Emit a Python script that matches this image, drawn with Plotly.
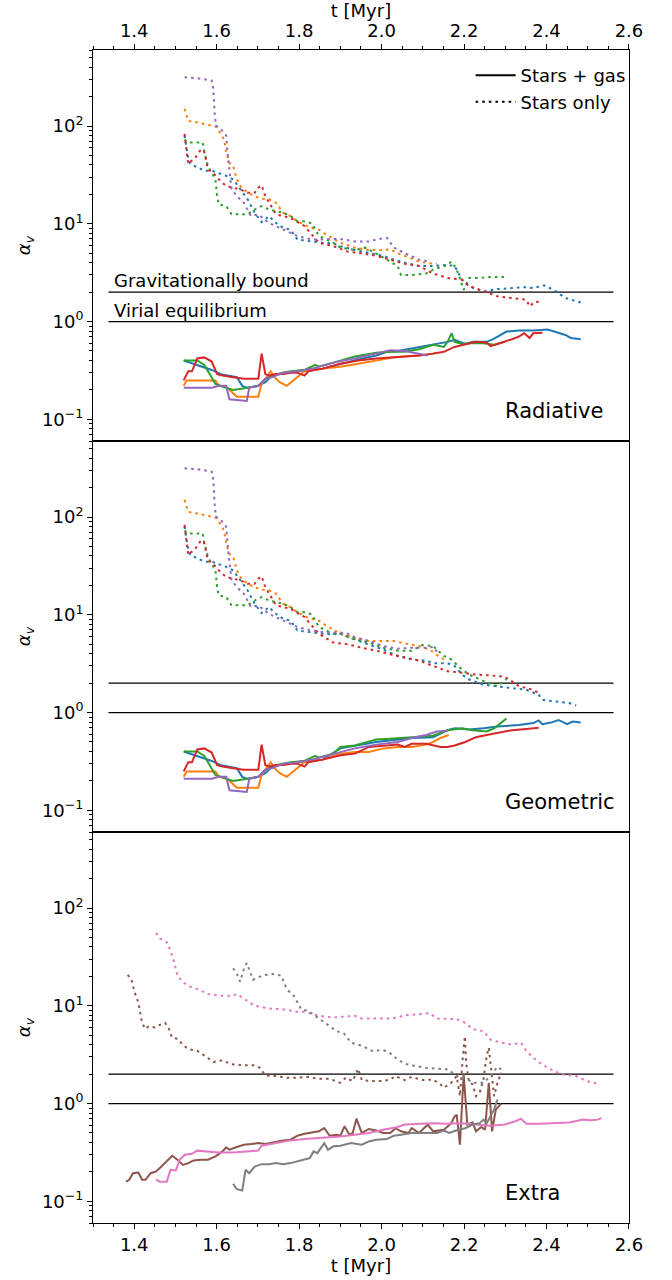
import math
import plotly.graph_objects as go

# ---------------- data: Radiative (stars + gas = sg, stars only = so) ----------------
rad_blue_sg_t = [1.520,1.553,1.588,1.610,1.631,1.649,1.662,1.675,1.701,1.718,1.735,1.779,1.813,1.857,1.900,1.943,1.987,2.013,2.039,2.073,2.125,2.160,2.177,2.203,2.221,2.255,2.273,2.303,2.333,2.368,2.403,2.420,2.446,2.459,2.483]
rad_blue_sg_a = [0.40,0.36,0.32,0.29,0.28,0.27,0.22,0.21,0.22,0.24,0.28,0.30,0.32,0.33,0.37,0.41,0.45,0.49,0.50,0.53,0.58,0.62,0.65,0.59,0.62,0.62,0.67,0.79,0.81,0.81,0.83,0.79,0.73,0.68,0.66]
rad_orange_sg_t = [1.520,1.527,1.597,1.605,1.623,1.649,1.675,1.701,1.709,1.722,1.731,1.740,1.753,1.770,1.787,1.800,1.813,1.857,1.900,1.943,1.987,2.030,2.056,2.091,2.125,2.134]
rad_orange_sg_a = [0.22,0.25,0.25,0.22,0.215,0.17,0.17,0.17,0.23,0.27,0.31,0.27,0.24,0.22,0.25,0.28,0.31,0.33,0.345,0.37,0.40,0.43,0.44,0.45,0.47,0.48]
rad_green_sg_t = [1.520,1.553,1.570,1.584,1.597,1.623,1.640,1.675,1.701,1.718,1.744,1.779,1.813,1.839,1.848,1.883,1.900,1.935,1.987,2.021,2.056,2.091,2.125,2.151,2.160,2.170,2.177,2.195,2.212,2.247,2.273,2.299]
rad_green_sg_a = [0.40,0.40,0.36,0.29,0.23,0.21,0.20,0.21,0.22,0.26,0.29,0.31,0.32,0.36,0.345,0.38,0.40,0.44,0.48,0.49,0.49,0.52,0.58,0.55,0.62,0.76,0.62,0.59,0.60,0.60,0.58,0.62]
rad_red_sg_t = [1.520,1.531,1.540,1.553,1.570,1.588,1.601,1.614,1.640,1.666,1.683,1.701,1.709,1.718,1.727,1.744,1.761,1.779,1.796,1.813,1.822,1.857,1.900,1.943,1.987,2.030,2.056,2.091,2.125,2.151,2.177,2.203,2.229,2.255,2.264,2.281,2.299,2.316,2.333,2.346,2.359,2.368,2.390]
rad_red_sg_a = [0.25,0.31,0.31,0.42,0.43,0.39,0.29,0.28,0.27,0.26,0.26,0.26,0.47,0.29,0.28,0.29,0.29,0.30,0.30,0.28,0.31,0.33,0.37,0.40,0.42,0.43,0.44,0.45,0.47,0.49,0.55,0.58,0.62,0.61,0.56,0.59,0.62,0.66,0.70,0.76,0.68,0.76,0.77]
rad_purple_sg_t = [1.520,1.588,1.605,1.623,1.631,1.649,1.673,1.679,1.701,1.718,1.735,1.761,1.796,1.831,1.883,1.935,1.987,2.021,2.056,2.091,2.112]
rad_purple_sg_a = [0.21,0.21,0.22,0.22,0.16,0.157,0.154,0.21,0.22,0.26,0.27,0.30,0.31,0.33,0.38,0.42,0.47,0.51,0.50,0.47,0.45]

rad_blue_so_t = [1.522,1.531,1.536,1.553,1.570,1.588,1.605,1.623,1.640,1.657,1.675,1.692,1.709,1.727,1.744,1.761,1.779,1.796,1.831,1.857,1.883,1.900,1.935,1.969,2.004,2.030,2.056,2.091,2.125,2.160,2.177,2.195,2.212,2.247,2.281,2.316,2.351,2.368,2.394,2.420,2.446,2.483]
rad_blue_so_a = [80,46,41,38,35,35,33,31,28.5,22.5,17.8,13.0,10.4,12.0,10.2,9.1,8.7,6.9,6.6,6.4,6.3,5.9,5.4,5.0,4.7,4.3,4.0,3.7,3.7,3.8,3.7,2.68,2.29,2.03,2.15,2.20,2.25,2.20,2.35,2.08,1.74,1.57]
rad_orange_so_t = [1.522,1.531,1.553,1.588,1.597,1.605,1.618,1.623,1.631,1.640,1.649,1.657,1.675,1.692,1.709,1.727,1.744,1.761,1.779,1.796,1.822,1.848,1.865,1.900,1.935,1.969,2.004,2.021,2.039,2.056,2.091,2.125,2.134]
rad_orange_so_a = [150,113,109,101,99,90,73,54,42,39,28.5,24.4,20.8,19.2,18.1,17.8,16.4,13.0,12.0,10.6,9.3,8.7,7.8,6.4,5.7,5.4,5.4,5.5,5.0,4.7,4.1,3.9,3.9]
rad_green_so_t = [1.522,1.531,1.566,1.570,1.579,1.588,1.597,1.601,1.605,1.623,1.636,1.657,1.675,1.692,1.709,1.727,1.744,1.761,1.779,1.796,1.813,1.831,1.848,1.865,1.883,1.900,1.935,1.961,1.987,2.013,2.039,2.047,2.073,2.108,2.125,2.151,2.160,2.169,2.177,2.186,2.199,2.212,2.238,2.264,2.299]
rad_green_so_a = [73,68,68,54,39,33,28.5,19.2,15.8,15.2,12.5,12.5,12.5,14.0,15.2,14.0,13.5,13.0,12.0,10.6,10.6,10.1,7.5,6.9,6.4,5.7,5.4,5.7,5.0,4.3,3.7,3.0,3.0,3.1,3.4,3.7,3.8,4.1,3.7,3.1,2.11,2.79,2.79,2.85,2.85]
rad_red_so_t = [1.522,1.527,1.531,1.544,1.553,1.562,1.570,1.579,1.592,1.605,1.623,1.640,1.657,1.675,1.692,1.701,1.709,1.718,1.727,1.744,1.761,1.779,1.813,1.848,1.883,1.918,1.952,1.987,2.021,2.056,2.091,2.125,2.160,2.195,2.212,2.247,2.281,2.316,2.351,2.359,2.372,2.387]
rad_red_so_a = [83,58,41,46,50,58,54,36,33,28.5,24.4,23.4,22.5,20.8,20.8,23.4,24.8,19.2,16.4,12.5,12.0,11.5,9.5,6.4,5.9,5.2,5.0,4.7,4.3,3.9,3.7,3.1,2.79,2.68,2.32,2.03,1.81,1.74,1.67,1.43,1.60,1.57]
rad_purple_so_t = [1.522,1.553,1.588,1.592,1.595,1.598,1.610,1.623,1.627,1.631,1.636,1.649,1.666,1.683,1.701,1.727,1.761,1.796,1.831,1.865,1.900,1.935,1.969,1.987,2.013,2.030,2.056,2.091,2.117]
rad_purple_so_a = [316,309,292,240,138,101,93,80,50,33,22.5,19.2,16.4,12.0,12.5,10.2,8.7,7.5,6.9,6.9,7.0,6.6,6.6,6.9,7.2,5.7,5.0,4.3,4.1]

# ---------------- data: Geometric (identical to Radiative early on, then diverges) ----------------
geo_blue_sg_t = rad_blue_sg_t[:14] + [1.900,1.987,2.073,2.125,2.160,2.177,2.212,2.247,2.281,2.333,2.368,2.381,2.390,2.411,2.429,2.450,2.464,2.483]
geo_blue_sg_a = rad_blue_sg_a[:14] + [0.43,0.50,0.55,0.56,0.66,0.69,0.67,0.69,0.72,0.745,0.78,0.83,0.76,0.79,0.84,0.76,0.81,0.79]
geo_orange_sg_t = rad_orange_sg_t[:18] + [1.900,1.935,1.969,2.004,2.039,2.073,2.108,2.125,2.143,2.163]
geo_orange_sg_a = rad_orange_sg_a[:18] + [0.38,0.395,0.395,0.43,0.445,0.445,0.47,0.50,0.55,0.59]
geo_green_sg_t = rad_green_sg_t[:16] + [1.900,1.935,1.969,1.987,2.021,2.056,2.091,2.125,2.160,2.195,2.221,2.247,2.255,2.273,2.290,2.303]
geo_green_sg_a = rad_green_sg_a[:16] + [0.445,0.46,0.50,0.53,0.54,0.55,0.56,0.58,0.66,0.69,0.66,0.65,0.64,0.69,0.78,0.87]
geo_red_sg_t = rad_red_sg_t[:22] + [1.900,1.935,1.969,2.004,2.039,2.056,2.073,2.108,2.125,2.143,2.160,2.177,2.203,2.229,2.255,2.290,2.316,2.351,2.381]
geo_red_sg_a = rad_red_sg_a[:22] + [0.365,0.38,0.445,0.46,0.47,0.445,0.48,0.48,0.46,0.445,0.445,0.46,0.50,0.56,0.59,0.625,0.66,0.68,0.70]
geo_purple_sg_t = rad_purple_sg_t[:15] + [1.935,1.987,2.039,2.073,2.108,2.134,2.160]
geo_purple_sg_a = rad_purple_sg_a[:15] + [0.43,0.47,0.50,0.55,0.59,0.64,0.65]

geo_blue_so_t = rad_blue_so_t[:21] + [1.900,1.935,1.969,2.004,2.039,2.073,2.108,2.125,2.160,2.177,2.195,2.212,2.247,2.281,2.316,2.351,2.381,2.390,2.420,2.455,2.472]
geo_blue_so_a = rad_blue_so_a[:21] + [6.4,5.6,5.0,4.4,3.8,3.5,3.4,3.2,3.2,3.0,2.45,2.18,1.93,1.86,1.79,1.71,1.52,1.35,1.30,1.25,1.18]
geo_orange_so_t = rad_orange_so_t[:23] + [1.900,1.935,1.969,2.004,2.030,2.056,2.091,2.117,2.143,2.160]
geo_orange_so_a = rad_orange_so_a[:23] + [6.4,5.8,5.4,5.4,5.4,5.1,4.8,4.4,3.65,3.4]
geo_green_so_t = rad_green_so_t[:25] + [1.900,1.935,1.969,2.004,2.039,2.073,2.099,2.125,2.134,2.151,2.169,2.195,2.212,2.238,2.255,2.281,2.303]
geo_green_so_a = rad_green_so_a[:25] + [6.4,5.6,5.2,4.6,4.3,4.3,4.9,4.8,4.4,3.8,3.5,2.76,2.45,2.18,2.04,1.86,2.2]
geo_red_so_t = rad_red_so_t[:24] + [1.883,1.918,1.952,1.987,2.021,2.056,2.091,2.125,2.160,2.195,2.229,2.264,2.299,2.316,2.333,2.368,2.381]
geo_red_so_a = rad_red_so_a[:24] + [5.2,5.0,4.6,4.3,3.95,3.65,3.4,3.0,2.65,2.55,2.45,2.4,2.32,2.09,1.86,1.71,1.58]
geo_purple_so_t = rad_purple_so_t[:19] + [1.865,1.900,1.918,1.935,1.969,2.004,2.039,2.073,2.108,2.125,2.134]
geo_purple_so_a = rad_purple_so_a[:19] + [6.6,6.6,6.4,5.9,5.4,4.8,4.5,4.6,4.6,4.7,4.2]

# ---------------- data: Extra ----------------
ext_brown_sg_t = [1.380,1.388,1.397,1.410,1.419,1.427,1.440,1.453,1.466,1.479,1.492,1.505,1.518,1.531,1.544,1.562,1.579,1.597,1.614,1.623,1.631,1.649,1.666,1.683,1.701,1.718,1.744,1.761,1.779,1.796,1.813,1.831,1.848,1.861,1.874,1.891,1.900,1.910,1.922,1.930,1.939,1.952,1.969,1.987,2.004,2.021,2.034,2.047,2.065,2.073,2.091,2.112,2.125,2.151,2.169,2.177,2.182,2.190,2.199,2.208,2.221,2.229,2.242,2.251,2.260,2.268,2.277,2.290]
ext_brown_sg_a = [0.159,0.166,0.194,0.197,0.166,0.166,0.194,0.202,0.227,0.256,0.292,0.266,0.236,0.246,0.262,0.266,0.266,0.288,0.324,0.356,0.337,0.359,0.379,0.385,0.394,0.385,0.41,0.42,0.427,0.469,0.49,0.508,0.52,0.56,0.469,0.48,0.469,0.585,0.48,0.50,0.70,0.50,0.55,0.53,0.50,0.50,0.56,0.52,0.50,0.56,0.50,0.61,0.52,0.54,0.63,0.74,0.77,0.379,1.99,0.61,0.64,0.52,0.575,0.54,1.63,0.52,0.87,1.0]
ext_brown_so_t = [1.384,1.393,1.401,1.410,1.419,1.427,1.436,1.449,1.466,1.475,1.484,1.492,1.505,1.518,1.531,1.553,1.570,1.592,1.614,1.636,1.666,1.692,1.705,1.718,1.744,1.770,1.796,1.822,1.848,1.874,1.900,1.913,1.930,1.943,1.952,1.978,2.004,2.021,2.034,2.056,2.073,2.099,2.125,2.143,2.151,2.169,2.182,2.190,2.196,2.202,2.205,2.212,2.221,2.229,2.238,2.247,2.255,2.260,2.264,2.273,2.281,2.290]
ext_brown_so_a = [20.7,18.8,13.7,10.8,6.7,5.8,6.2,6.0,6.5,6.7,5.85,4.7,4.6,4.0,3.6,3.45,3.1,2.66,2.77,2.52,2.46,2.46,2.32,1.94,1.91,1.84,1.84,1.88,1.79,1.79,1.63,1.84,1.70,2.27,1.74,1.70,1.70,1.76,1.91,1.74,1.88,1.74,1.76,1.57,1.45,1.63,1.91,1.19,2.62,4.9,2.62,1.66,1.57,1.19,1.29,1.76,3.1,3.73,2.62,1.19,1.63,2.07]
ext_pink_sg_t = [1.453,1.462,1.479,1.488,1.501,1.510,1.523,1.540,1.553,1.579,1.605,1.640,1.666,1.701,1.709,1.744,1.779,1.813,1.848,1.900,1.935,1.969,2.004,2.039,2.056,2.091,2.125,2.160,2.195,2.229,2.264,2.299,2.325,2.338,2.351,2.385,2.420,2.455,2.489,2.507,2.524,2.533]
ext_pink_sg_a = [0.168,0.159,0.159,0.21,0.207,0.266,0.30,0.306,0.33,0.324,0.316,0.316,0.32,0.33,0.37,0.394,0.42,0.434,0.444,0.46,0.48,0.50,0.54,0.575,0.61,0.62,0.63,0.62,0.63,0.61,0.594,0.61,0.66,0.70,0.62,0.62,0.63,0.64,0.685,0.675,0.685,0.71]
ext_pink_so_t = [1.453,1.462,1.479,1.488,1.497,1.505,1.518,1.540,1.553,1.579,1.605,1.640,1.649,1.675,1.692,1.727,1.761,1.796,1.813,1.848,1.883,1.918,1.935,1.952,1.987,2.021,2.039,2.056,2.091,2.117,2.134,2.160,2.182,2.199,2.221,2.247,2.264,2.290,2.316,2.338,2.351,2.377,2.403,2.437,2.472,2.498,2.524]
ext_pink_so_a = [55.8,49,44.7,36.7,27.9,20.3,17.4,15.4,14.8,13.2,12.7,12.7,13.2,11.2,10.0,9.4,9.2,8.7,8.7,7.9,7.6,7.8,7.9,7.4,7.4,7.4,7.6,8.0,8.2,8.4,7.4,7.3,7.3,6.85,5.76,5.5,4.5,4.2,4.0,4.2,3.45,2.72,2.32,1.99,1.91,1.70,1.60]
ext_gray_sg_t = [1.640,1.649,1.662,1.670,1.679,1.692,1.709,1.727,1.744,1.761,1.779,1.796,1.813,1.826,1.835,1.844,1.861,1.870,1.883,1.900,1.926,1.952,1.969,1.987,2.013,2.030,2.047,2.073,2.108,2.134,2.151,2.164,2.186,2.203,2.221,2.238,2.247,2.255,2.264,2.273,2.281]
ext_gray_sg_a = [0.151,0.133,0.129,0.21,0.194,0.227,0.24,0.24,0.246,0.24,0.246,0.256,0.266,0.277,0.324,0.311,0.394,0.337,0.365,0.37,0.394,0.379,0.41,0.427,0.434,0.469,0.48,0.50,0.50,0.50,0.53,0.50,0.54,0.56,0.61,0.63,0.685,0.63,0.74,0.87,1.10]
ext_gray_so_t = [1.640,1.649,1.657,1.666,1.673,1.679,1.688,1.701,1.718,1.740,1.757,1.770,1.787,1.805,1.822,1.839,1.857,1.874,1.891,1.909,1.926,1.952,1.978,2.004,2.021,2.039,2.056,2.082,2.108,2.134,2.160,2.186,2.203,2.221,2.247,2.264,2.281,2.290]
ext_gray_so_a = [24.2,21.2,17.6,23.8,27.4,23.8,18.5,19.6,20.7,21.2,20.3,14.8,12.7,9.2,8.9,7.9,7.0,6.2,5.5,5.2,4.2,3.9,3.45,3.53,3.26,2.83,2.56,2.42,2.32,2.27,2.24,1.88,1.84,1.63,1.63,1.91,2.38,2.24]

# reference levels and labels
ref_levels = [2.0, 1.0]
ref_labels = ["Gravitationally bound", "Virial equilibrium"]
ref_span = [1.3375, 2.5625]
panel_names = ["Radiative", "Geometric", "Extra"]
t_ticks = [1.4, 1.6, 1.8, 2.0, 2.2, 2.4, 2.6]
t_ticktext = ["1.4", "1.6", "1.8", "2.0", "2.2", "2.4", "2.6"]
a_ticks = [0.1, 1, 10, 100]
a_ticktext = ["10<sup>\u22121</sup>", "10<sup>0</sup>", "10<sup>1</sup>", "10<sup>2</sup>"]

COL = dict(blue="#1f77b4", orange="#ff7f0e", green="#2ca02c", red="#d62728",
           purple="#9467bd", brown="#8c564b", pink="#e377c2", gray="#7f7f7f")

panels = [
    [("blue", rad_blue_sg_t, rad_blue_sg_a, rad_blue_so_t, rad_blue_so_a),
     ("orange", rad_orange_sg_t, rad_orange_sg_a, rad_orange_so_t, rad_orange_so_a),
     ("green", rad_green_sg_t, rad_green_sg_a, rad_green_so_t, rad_green_so_a),
     ("red", rad_red_sg_t, rad_red_sg_a, rad_red_so_t, rad_red_so_a),
     ("purple", rad_purple_sg_t, rad_purple_sg_a, rad_purple_so_t, rad_purple_so_a)],
    [("blue", geo_blue_sg_t, geo_blue_sg_a, geo_blue_so_t, geo_blue_so_a),
     ("orange", geo_orange_sg_t, geo_orange_sg_a, geo_orange_so_t, geo_orange_so_a),
     ("green", geo_green_sg_t, geo_green_sg_a, geo_green_so_t, geo_green_so_a),
     ("red", geo_red_sg_t, geo_red_sg_a, geo_red_so_t, geo_red_so_a),
     ("purple", geo_purple_sg_t, geo_purple_sg_a, geo_purple_so_t, geo_purple_so_a)],
    [("brown", ext_brown_sg_t, ext_brown_sg_a, ext_brown_so_t, ext_brown_so_a),
     ("pink", ext_pink_sg_t, ext_pink_sg_a, ext_pink_so_t, ext_pink_so_a),
     ("gray", ext_gray_sg_t, ext_gray_sg_a, ext_gray_so_t, ext_gray_so_a)],
]

FONT = "DejaVu Sans, Arial, sans-serif"
FS = 18
LW = 2.0
DOT = "2.6px,4px"

fig = go.Figure()

for i, runs in enumerate(panels):
    sfx = "" if i == 0 else str(i + 1)
    xa, ya = "x" + sfx, "y" + sfx
    for lvl in ref_levels:
        fig.add_trace(go.Scatter(x=ref_span, y=[lvl, lvl], mode="lines", xaxis=xa, yaxis=ya,
                                 line=dict(color="black", width=1.3), showlegend=False, hoverinfo="skip"))
    for name, t_sg, a_sg, t_so, a_so in runs:
        fig.add_trace(go.Scatter(x=t_sg, y=a_sg, mode="lines", xaxis=xa, yaxis=ya,
                                 line=dict(color=COL[name], width=LW), showlegend=False, hoverinfo="skip"))
        fig.add_trace(go.Scatter(x=t_so, y=a_so, mode="lines", xaxis=xa, yaxis=ya,
                                 line=dict(color=COL[name], width=LW, dash=DOT), showlegend=False, hoverinfo="skip"))

# legend proxies
fig.add_trace(go.Scatter(x=[None], y=[None], mode="lines", name="Stars + gas",
                         line=dict(color="black", width=LW), xaxis="x", yaxis="y"))
fig.add_trace(go.Scatter(x=[None], y=[None], mode="lines", name="Stars only",
                         line=dict(color="black", width=LW, dash=DOT), xaxis="x", yaxis="y"))

yr = [math.log10(0.06), math.log10(600)]
minor_y = [m * 10 ** e for e in range(-2, 3) for m in range(2, 10)]
domains = [[2 / 3, 1.0], [1 / 3, 2 / 3], [0.0, 1 / 3]]

layout = dict(
    width=672, height=1280, autosize=False,
    margin=dict(l=93, r=43, t=50, b=57, autoexpand=False),
    paper_bgcolor="white", plot_bgcolor="white",
    font=dict(family=FONT, size=FS, color="black"),
    showlegend=True,
    legend=dict(x=1.003, xanchor="right", y=0.994, yanchor="top", bgcolor="rgba(0,0,0,0)",
                font=dict(size=FS, family=FONT), tracegroupgap=0, itemwidth=40),
)

for i in range(3):
    sfx = "" if i == 0 else str(i + 1)
    xax = dict(range=[1.3, 2.6001], domain=[0, 1], anchor="y" + sfx, automargin=False,
               showline=True, linecolor="black", linewidth=1, mirror=True,
               showgrid=False, zeroline=False,
               tickvals=t_ticks, ticktext=t_ticktext,
               tickfont=dict(size=FS, family=FONT, color="black"))
    if i == 0:
        xax.update(side="top", ticks="outside", ticklen=5, tickwidth=1, tickcolor="black",
                   minor=dict(ticks="outside", ticklen=3, tickwidth=1, tickcolor="black", dtick=0.05, tick0=1.3),
                   title=dict(text="t [Myr]", standoff=4, font=dict(size=FS, family=FONT)))
    elif i == 2:
        xax.update(side="bottom", ticks="outside", ticklen=5, tickwidth=1, tickcolor="black",
                   minor=dict(ticks="outside", ticklen=3, tickwidth=1, tickcolor="black", dtick=0.05, tick0=1.3),
                   title=dict(text="t [Myr]", standoff=2, font=dict(size=FS, family=FONT)))
    else:
        xax.update(ticks="", showticklabels=False)
    yax = dict(type="log", range=yr, domain=domains[i], anchor="x" + sfx, automargin=False,
               showline=True, linecolor="black", linewidth=1, mirror=True,
               showgrid=False, zeroline=False,
               tickvals=a_ticks, ticktext=a_ticktext,
               ticks="outside", ticklen=5, tickwidth=1, tickcolor="black",
               minor=dict(ticks="outside", ticklen=3, tickwidth=1, tickcolor="black", tickvals=minor_y),
               tickfont=dict(size=FS, family=FONT, color="black"),
               title=dict(text="<i>\u03b1<sub>v</sub></i>", standoff=6, font=dict(size=FS, family=FONT)))
    layout["xaxis" + sfx] = xax
    layout["yaxis" + sfx] = yax

fig.update_layout(**layout)

annotations = []
for i, name in enumerate(panel_names):
    sfx = "" if i == 0 else str(i + 1)
    annotations.append(dict(x=2.3, y=math.log10(0.1), xref="x" + sfx, yref="y" + sfx,
                            text=name, showarrow=False, xanchor="left", yanchor="bottom",
                            xshift=-2, yshift=-6, font=dict(size=21, family=FONT, color="black")))
for lvl, lab in zip(ref_levels, ref_labels):
    annotations.append(dict(x=1.35, y=math.log10(lvl * 1.1), xref="x", yref="y",
                            text=lab, showarrow=False, xanchor="left", yanchor="bottom",
                            xshift=-2, yshift=-5, font=dict(size=FS, family=FONT, color="black")))
fig.update_layout(annotations=annotations)

fig.write_html("out.html", config={"displayModeBar": False},
               post_script="document.body.style.margin='0';document.body.style.padding='0';")
